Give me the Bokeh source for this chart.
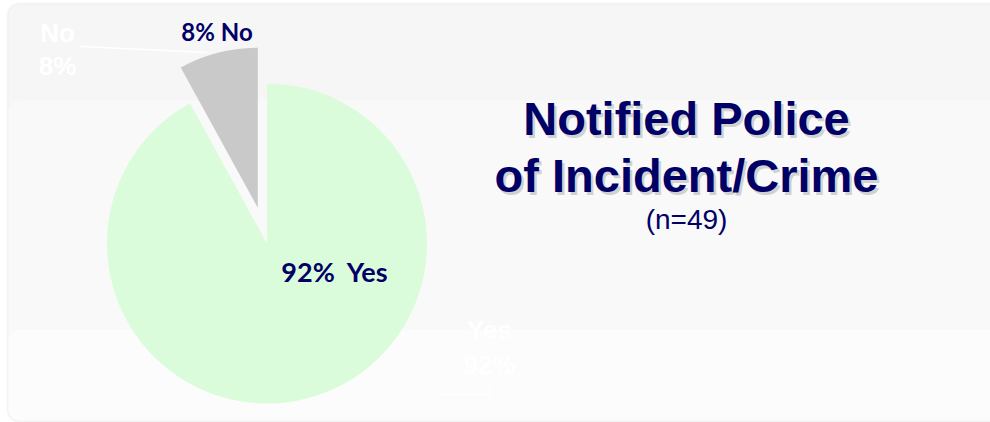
import math
from bokeh.plotting import figure
from bokeh.models import Range1d, BoxAnnotation, ColumnDataSource
from bokeh.core.properties import value
from bokeh.embed import file_html
from bokeh.resources import INLINE

# ---- data ----
categories = ["Yes", "No"]
percents = [92, 8]
inner_labels = ["92%\u00a0 Yes", "8% No"]
outer_labels = [["Yes", "92%"], ["No", "8%"]]
title_lines = ["Notified Police", "of Incident/Crime"]
subtitle = "(n=49)"
colors = ["#dbfcda", "#c9c9c9"]
explode = [0, 37]

W, H = 990, 422
p = figure(width=W, height=H, output_backend="svg", toolbar_location=None,
           x_range=Range1d(0, W), y_range=Range1d(0, H),
           x_axis_type=None, y_axis_type=None, min_border=0)
p.grid.visible = False
p.background_fill_color = "#ffffff"
p.border_fill_color = "#ffffff"
p.outline_line_color = None

# rounded panel with subtle banding
p.add_layout(BoxAnnotation(left=7, right=1010, top=419, bottom=1, border_radius=12,
                           fill_color="#f6f6f6", fill_alpha=1, line_color="#e4e4e4",
                           line_width=2, level="underlay"))
p.add_layout(BoxAnnotation(left=8, right=1010, top=322, bottom=2, border_radius=11,
                           fill_color="#f9f9f9", fill_alpha=1, line_alpha=0, level="underlay"))
p.add_layout(BoxAnnotation(left=8, right=1010, top=93, bottom=2, border_radius=11,
                           fill_color="#fcfcfc", fill_alpha=1, line_alpha=0, level="underlay"))

# ---- pie ----
cx, cy, R = 266.5, 179, 160
total = sum(percents)
starts, ends, xs, ys = [], [], [], []
cum = 0.0
for pct, ex in zip(percents, explode):
    a_top = math.pi / 2 - 2 * math.pi * cum / total          # clockwise from 12 o'clock
    a_bot = math.pi / 2 - 2 * math.pi * (cum + pct) / total
    mid = (a_top + a_bot) / 2
    starts.append(a_bot)
    ends.append(a_top)
    xs.append(cx + ex * math.cos(mid))
    ys.append(cy + ex * math.sin(mid))
    cum += pct

src = ColumnDataSource(dict(x=xs, y=ys, start=starts, end=ends, color=colors, cat=categories))
p.wedge(x="x", y="y", radius=R, start_angle="start", end_angle="end",
        direction="anticlock", fill_color="color", line_color=None, source=src)

# inner (navy) labels
lab_x = [334.5, 216.5]
lab_y = [151, 391]
lab_size = ["27px", "24px"]
for t, x, y, s in zip(inner_labels, lab_x, lab_y, lab_size):
    p.text(x=[x], y=[y], text=[t], text_font=value("Lato"), text_font_style="bold",
           text_font_size=s, text_color="#000066", text_align="center",
           text_baseline="alphabetic")

# white outer labels and leader lines (nearly invisible)
out_pos = [(489, [93, 58]), (57, [390, 357])]
for lines, (x, ys_) in zip(outer_labels, out_pos):
    for t, y in zip(lines, ys_):
        p.text(x=[x], y=[y], text=[t], text_font=value("Liberation Sans"),
               text_font_style="bold", text_font_size="26px", text_color="white",
               text_align="center", text_baseline="alphabetic")
p.line(x=[80, 207], y=[376, 370], line_color="white", line_width=1.5)
p.line(x=[440, 489, 489], y=[28, 28, 37], line_color="white", line_width=1.5)

# ---- title ----
tx = 686
for t, y in zip(title_lines, [304, 247]):
    p.text(x=[tx + 2.5], y=[y - 2.5], text=[t], text_font=value("Liberation Sans"),
           text_font_style="bold", text_font_size="47px", text_color="#909090",
           text_alpha=0.4, text_align="center", text_baseline="alphabetic")
    p.text(x=[tx], y=[y], text=[t], text_font=value("Liberation Sans"),
           text_font_style="bold", text_font_size="47px", text_color="#000066",
           text_align="center", text_baseline="alphabetic")
p.text(x=[tx], y=[203], text=[subtitle], text_font=value("Liberation Sans"),
       text_font_size="28px", text_color="#000066", text_align="center",
       text_baseline="alphabetic")

open("out.html", "w").write(file_html(p, INLINE))
